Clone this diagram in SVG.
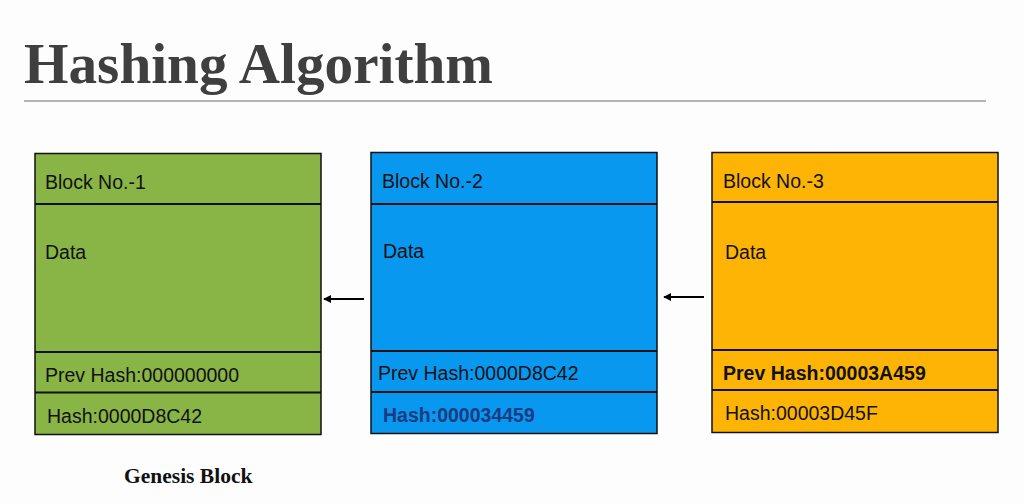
<svg xmlns="http://www.w3.org/2000/svg" width="1024" height="504" viewBox="0 0 1024 504">
<style>
.t{font-family:"Liberation Sans",Arial,sans-serif;font-size:19.5px;fill:#111}
.b{font-weight:bold}
.box{stroke:#111;stroke-width:1.5}
.div{stroke:#111;stroke-width:2}
.conn{stroke:#000;stroke-width:2;fill:none}
</style>
<defs>
<marker id="ah" viewBox="0 0 10 10" refX="9" refY="5" markerWidth="4" markerHeight="4" orient="auto">
<path d="M0,0 L10,5 L0,10 z" fill="#000"/>
</marker>
</defs>
<rect width="1024" height="504" fill="#fdfdfd"/>
<g id="title">
<text x="24" y="83" font-family="'Liberation Serif','Times New Roman',serif" font-weight="bold" font-size="58" fill="#3f3f3f" textLength="469" lengthAdjust="spacingAndGlyphs">Hashing Algorithm</text>
<line x1="24" y1="101" x2="986" y2="101" stroke="#b5b5b5" stroke-width="2"/>
</g>
<g id="block1">
<rect class="box" x="35" y="153.5" width="286" height="281" fill="#89b446"/>
<line class="div" x1="35" y1="204" x2="321" y2="204"/>
<line class="div" x1="35" y1="352" x2="321" y2="352"/>
<line class="div" x1="35" y1="392.5" x2="321" y2="392.5"/>
<text class="t" x="45" y="189">Block No.-1</text>
<text class="t" x="45" y="259">Data</text>
<text class="t" x="45" y="382">Prev Hash:000000000</text>
<text class="t" x="47" y="423">Hash:0000D8C42</text>
</g>
<g id="block2">
<rect class="box" x="371" y="152.5" width="286" height="281" fill="#0898f0"/>
<line class="div" x1="371" y1="204" x2="657" y2="204"/>
<line class="div" x1="371" y1="351" x2="657" y2="351"/>
<line class="div" x1="371" y1="392" x2="657" y2="392"/>
<text class="t" x="382" y="188">Block No.-2</text>
<text class="t" x="383" y="258">Data</text>
<text class="t" x="378" y="380">Prev Hash:0000D8C42</text>
<text class="t b" x="383" y="422" fill="#1b3b80" style="fill:#1b3b80">Hash:000034459</text>
</g>
<g id="block3">
<rect class="box" x="712" y="152.5" width="286" height="280" fill="#fdb404"/>
<line class="div" x1="712" y1="202" x2="998" y2="202"/>
<line class="div" x1="712" y1="350" x2="998" y2="350"/>
<line class="div" x1="712" y1="390" x2="998" y2="390"/>
<text class="t" x="723" y="188">Block No.-3</text>
<text class="t" x="725" y="259">Data</text>
<text class="t b" x="723" y="380">Prev Hash:00003A459</text>
<text class="t" x="725" y="420">Hash:00003D45F</text>
</g>
<g id="genesis-label">
<text x="124" y="483" font-family="'Liberation Serif','Times New Roman',serif" font-weight="bold" font-size="21.5" fill="#111">Genesis Block</text>
</g>
<g id="connectors">
<line class="conn" x1="364" y1="299" x2="324" y2="299" marker-end="url(#ah)"/>
<line class="conn" x1="704" y1="297" x2="664" y2="297" marker-end="url(#ah)"/>
</g>
</svg>
